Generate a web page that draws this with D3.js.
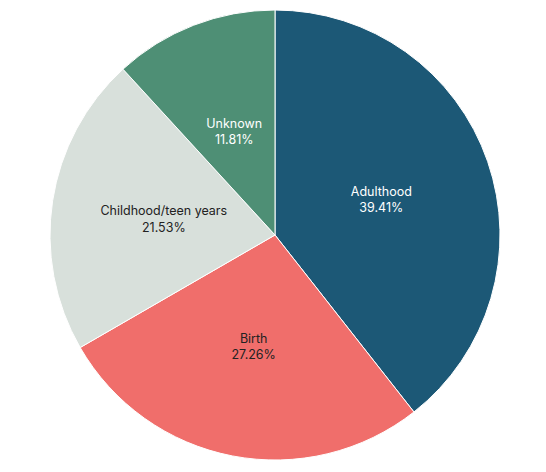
<!DOCTYPE html>
<html><head><meta charset="utf-8">
<script src="https://cdn.jsdelivr.net/npm/d3@7"></script>
<style>body{margin:0;background:#fff}</style>
</head><body>
<svg id="c" width="546" height="472"></svg>
<script>
const categories = ["Adulthood", "Birth", "Childhood/teen years", "Unknown"];
const values = [39.41, 27.26, 21.53, 11.81];
const colors = ["#1c5876", "#f06e6b", "#d8e0db", "#4e8f75"];
const textColors = ["#ffffff", "#222222", "#222222", "#ffffff"];

const data = categories.map((c, i) => ({c, v: values[i], i}));
const svg = d3.select("#c");
const g = svg.append("g").attr("transform", "translate(275,235)");
const r = 225;
const pie = d3.pie().value(d => d.v).sort(null);
const arc = d3.arc().innerRadius(0).outerRadius(r);
const labelArc = d3.arc().innerRadius(r * 0.5).outerRadius(r * 0.5);
const arcs = pie(data);
g.selectAll("path").data(arcs).join("path")
  .attr("d", arc).attr("fill", d => colors[d.data.i])
  .attr("stroke", "#fff").attr("stroke-width", 1);
const t = g.selectAll("text").data(arcs).join("text")
  .attr("transform", d => `translate(${labelArc.centroid(d)})`)
  .attr("text-anchor", "middle")
  .attr("font-family", "Inter, 'Open Sans', sans-serif")
  .attr("font-size", 12.5)
  .attr("fill", d => textColors[d.data.i]);
t.append("tspan").attr("x", 0).attr("dy", "-0.2em").text(d => d.data.c);
t.append("tspan").attr("x", 0).attr("dy", "1.3em").text(d => d.data.v.toFixed(2) + "%");
</script>
</body></html>
